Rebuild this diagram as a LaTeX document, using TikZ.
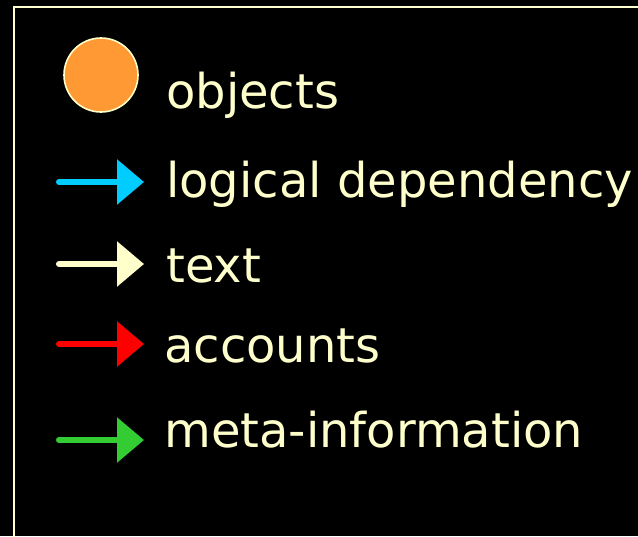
\documentclass[tikz,border=0pt]{standalone}
\usepackage{fontspec}
\usepackage{xcolor}
\usetikzlibrary{arrows.meta}
\setmainfont{DejaVu Sans}
\definecolor{legendcream}{HTML}{FFFFCC}
\definecolor{legendorange}{HTML}{FF9933}
\definecolor{legendblue}{HTML}{00CCFF}
\definecolor{legendred}{HTML}{FF0000}
\definecolor{legendgreen}{HTML}{33CC33}

\begin{document}
\begin{tikzpicture}[
  x=0.75pt,
  y=-0.75pt,
  every node/.style={font=\fontsize{36}{43}\selectfont, legendcream,
                     anchor=base west, inner sep=0pt},
  frame/.style={legendcream, line width=1.5pt},
  object/.style={fill=legendorange, draw=legendcream, line width=1.2pt},
  legendarrow/.style={line width=4.5pt, line cap=round,
                      -{Triangle[length=20.25pt, width=33pt]}}
]
  %% ---- 底色與外框 --------------------------------------------------------
  \fill[black] (0,0) rectangle (638,536);
  \clip (0,0) rectangle (638,536);
  %% 外框只露出左邊與上邊
  \draw[frame] (14,6.5) rectangle (720,620);

  %% ---- 物件：橘色圓 ------------------------------------------------------
  \draw[object] (101,75) circle[radius=37];
  \node (objects) at (166,108) {objects};

  %% ---- 四種箭頭，箭尖在 x = 144 ------------------------------------------
  \coordinate (logicalfrom) at (59,182);
  \coordinate (logicalto)   at (144,182);
  \coordinate (textfrom)    at (59,264);
  \coordinate (textto)      at (144,264);
  \coordinate (accountsfrom) at (59,344);
  \coordinate (accountsto)   at (144,344);
  \coordinate (metafrom)    at (59,440);
  \coordinate (metato)      at (144,440);

  \draw[legendarrow, legendblue]  (logicalfrom)  -- (logicalto);
  \draw[legendarrow, legendcream] (textfrom)     -- (textto);
  \draw[legendarrow, legendred]   (accountsfrom) -- (accountsto);
  \draw[legendarrow, legendgreen] (metafrom)     -- (metato);

  %% ---- 文字標示，基線各自量出 --------------------------------------------
  \node (logical)  at (166,197) {logical dependency};
  \node (text)     at (166,282) {text};
  \node (accounts) at (164,362) {accounts};
  \node (meta)     at (164,447) {meta-information};
\end{tikzpicture}
\end{document}
